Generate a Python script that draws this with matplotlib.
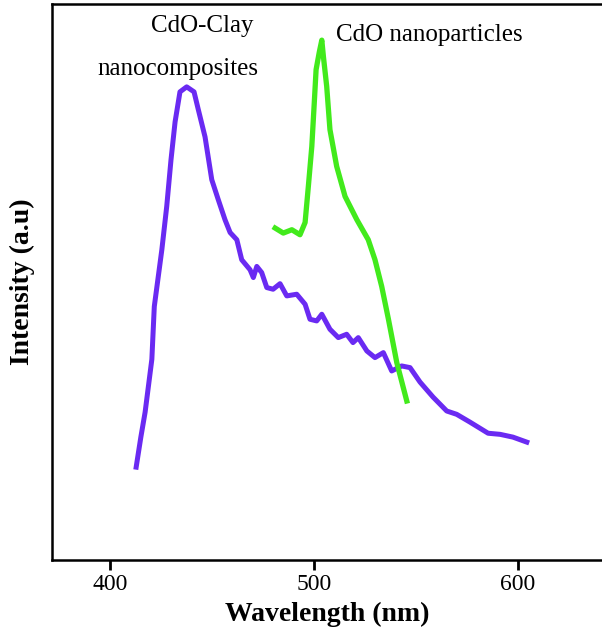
import matplotlib
matplotlib.use("Agg")
import matplotlib.pyplot as plt

# CdO-Clay nanocomposites (purple)
clay_nm = [412.8, 415.1, 417.2, 420.5, 421.7, 425.4, 427.8, 429.9, 431.9, 434.3,
           437.6, 441.2, 443.3, 446.6, 449.9, 453.1, 456.4, 458.9, 462.2, 464.6,
           468.7, 470.3, 472.0, 474.4, 476.9, 480.0, 483.4, 486.7, 491.6, 495.7,
           498.1, 501.4, 503.9, 507.9, 512.0, 516.1, 519.2, 521.8, 526.0, 530.0,
           534.1, 538.2, 543.1, 547.2, 552.1, 558.5, 565.2, 570.1, 576.6, 585.5,
           591.4, 597.7, 604.5]
clay_int = [16.7, 22.1, 26.6, 36.1, 45.6, 55.8, 63.6, 72.0, 78.8, 84.2,
            85.1, 84.2, 81.0, 76.1, 68.4, 64.8, 61.2, 58.9, 57.6, 54.0,
            52.2, 50.8, 52.8, 51.7, 49.0, 48.7, 49.7, 47.5, 47.8, 46.0,
            43.3, 43.0, 44.2, 41.5, 40.0, 40.6, 39.1, 40.0, 37.6, 36.4,
            37.3, 34.0, 34.9, 34.6, 32.0, 29.3, 26.8, 26.2, 24.8, 22.8,
            22.6, 22.1, 21.2]

# CdO nanoparticles (green)
cdo_nm = [481.0, 485.0, 489.2, 493.2, 495.7, 497.3, 499.0, 500.2, 501.1, 502.7,
          503.9, 504.7, 506.3, 507.9, 511.2, 515.3, 521.1, 526.7, 530.0, 533.3,
          536.6, 540.7, 545.6]
cdo_int = [59.7, 58.8, 59.4, 58.5, 60.7, 67.2, 74.4, 82.2, 88.2, 91.4,
           93.5, 90.5, 85.2, 77.4, 70.8, 65.4, 61.2, 57.6, 54.0, 49.2,
           43.3, 35.5, 28.6]

x_ticks = [400, 500, 600]

serif = ["Liberation Serif", "DejaVu Serif"]

fig = plt.figure(figsize=(6.02, 6.36), dpi=100)
ax = fig.add_axes([52 / 602, 76 / 636, 1 - 52 / 602, 556 / 636])

ax.plot(clay_nm, clay_int, color="#6a2af2", lw=3.6, solid_joinstyle="round")
ax.plot(cdo_nm, cdo_int, color="#42ea1c", lw=3.8, solid_joinstyle="round")

ax.set_xlim(371.5, 641.4)
ax.set_ylim(0, 100)

ax.spines["right"].set_visible(False)
for s in ["left", "bottom", "top"]:
    ax.spines[s].set_linewidth(1.8)

ax.set_xticks(x_ticks)
ax.set_xticklabels([str(t) for t in x_ticks], family=serif, fontsize=17)
ax.tick_params(axis="x", direction="out", length=7, width=2, pad=3)
ax.set_yticks([])

ax.set_xlabel("Wavelength (nm)", family=serif, fontsize=20, fontweight="bold", labelpad=5)
ax.set_ylabel("Intensity (a.u)", family=serif, fontsize=20, fontweight="bold", labelpad=12)

ax.text(445.1, 96.0, "CdO-Clay", family=serif, fontsize=18, ha="center", va="center")
ax.text(433.4, 88.3, "nanocomposites", family=serif, fontsize=18, ha="center", va="center")
ax.text(556.5, 94.4, "CdO nanoparticles", family=serif, fontsize=18, ha="center", va="center")

fig.savefig("out.png", dpi=100)
